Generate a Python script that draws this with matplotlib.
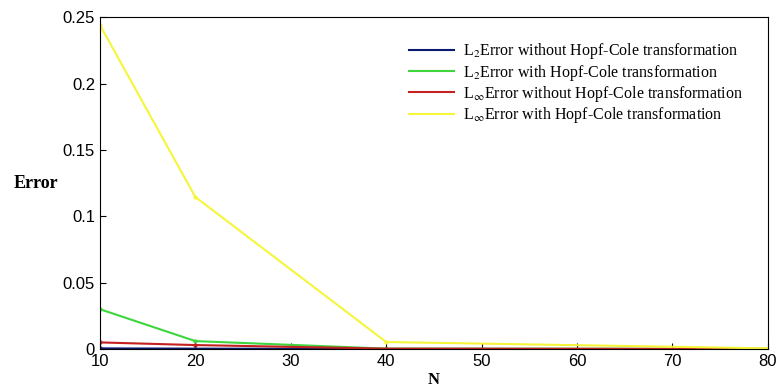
import numpy as np
import matplotlib.pyplot as plt

# error values
N = [10, 20, 40, 80]
l2_without = [0.0005, 0.0003, 0.0001, 0.0]
l2_with = [0.030, 0.006, 0.0003, 0.0001]
linf_without = [0.005, 0.003, 0.0003, 0.0001]
linf_with = [0.244, 0.1145, 0.0053, 0.0005]

labels = [r'L$_2$Error without Hopf-Cole transformation',
          r'L$_2$Error with Hopf-Cole transformation',
          r'L$_\infty$Error without Hopf-Cole transformation',
          r'L$_\infty$Error with Hopf-Cole transformation']
colors = ['#0a1a6e', '#3dd63d', '#c42020', '#f5f53a']

plt.rcParams['mathtext.fontset'] = 'stix'

fig = plt.figure(figsize=(7.78, 3.9), dpi=100)
ax = fig.add_axes([0.1285, 0.105, 0.8585, 0.851])

series = [l2_without, l2_with, linf_without, linf_with]
for s, c, lab in zip(series, colors, labels):
    ax.plot(N, s, color=c, lw=1.5, marker='.', ms=4, label=lab)

ax.set_xlim(10, 80)
ax.set_ylim(0, 0.25)
ax.set_xticks([10, 20, 30, 40, 50, 60, 70, 80])
ax.set_yticks([0, 0.05, 0.1, 0.15, 0.2, 0.25])
ax.set_yticklabels(['0', '0.05', '0.1', '0.15', '0.2', '0.25'])
ax.tick_params(direction='in', length=4, labelsize=12)
for t in ax.get_xticklabels() + ax.get_yticklabels():
    t.set_fontfamily('Liberation Sans')

ax.set_xlabel('N', fontfamily='Liberation Serif', fontweight='bold', fontsize=12, labelpad=2)
ax.set_ylabel('Error', fontfamily='Liberation Serif', fontweight='bold', fontsize=13,
              rotation=0, labelpad=19, va='center')

leg = ax.legend(loc='upper right', bbox_to_anchor=(0.985, 0.97), frameon=False,
                prop={'family': 'Liberation Serif', 'size': 11.5},
                handlelength=2.8, handletextpad=0.6, labelspacing=0.08)
for h in leg.legend_handles:
    h.set_marker('')

fig.savefig('out.png', dpi=100)
